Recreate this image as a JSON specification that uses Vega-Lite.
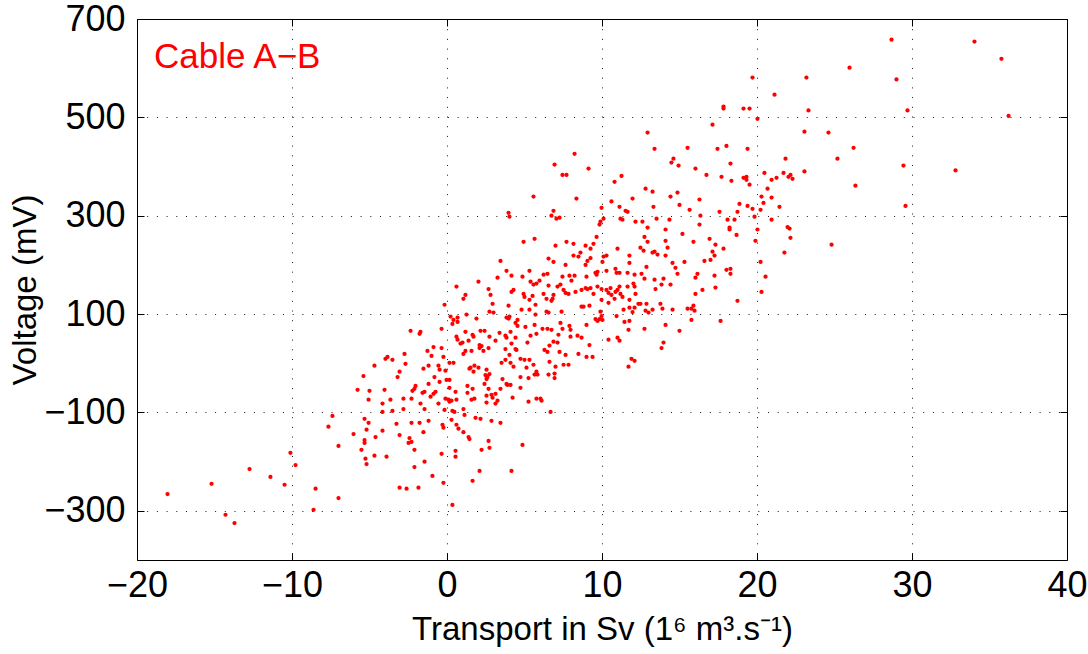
{
  "$schema": "https://vega.github.io/schema/vega-lite/v6.json",
  "width": 930,
  "height": 541,
  "autosize": {"type": "none"},
  "padding": {"left": 137, "top": 19, "right": 21, "bottom": 94},
  "background": "white",
  "config": {
    "view": {"stroke": "#000000", "strokeWidth": 1},
    "font": "Liberation Sans",
    "axis": {
      "labelFont": "Liberation Sans", "labelFontSize": 36, "labelColor": "#000000", "labelFlush": false, "labelOverlap": false,
      "titleFont": "Liberation Sans", "titleFontSize": 33, "titleFontWeight": "normal", "titleColor": "#000000",
      "domain": false,
      "tickColor": "#000000", "tickSize": -7, "tickWidth": 1,
      "gridColor": "#000000", "gridDash": [1, 8.7], "gridOpacity": 0.9, "gridWidth": 1
    }
  },
  "datasets": {
    "pts": [
      {"transport": -4.68, "voltage": -5}, {"transport": -5.39, "voltage": -26}, {"transport": -5.77, "voltage": -54}, {"transport": -5.0, "voltage": -56}, {"transport": -5.06, "voltage": -74}, {"transport": -7.39, "voltage": -107}, {"transport": -5.32, "voltage": -113}, {"transport": -5.06, "voltage": -121}, {"transport": -7.65, "voltage": -129}, {"transport": -5.19, "voltage": -135}, {"transport": -6.03, "voltage": -144}, {"transport": -4.61, "voltage": -150}, {"transport": -5.32, "voltage": -156}, {"transport": -5.32, "voltage": -162}, {"transport": -7.0, "voltage": -168}, {"transport": -5.52, "voltage": -176}, {"transport": -10.1, "voltage": -182}, {"transport": -5.26, "voltage": -194}, {"transport": -4.68, "voltage": -188}, {"transport": -5.19, "voltage": -205}, {"transport": -9.77, "voltage": -207}, {"transport": -12.74, "voltage": -215}, {"transport": -11.39, "voltage": -231}, {"transport": -15.19, "voltage": -245}, {"transport": -10.48, "voltage": -247}, {"transport": -18.03, "voltage": -266}, {"transport": -8.48, "voltage": -255}, {"transport": -7.0, "voltage": -274}, {"transport": -8.61, "voltage": -298}, {"transport": -14.29, "voltage": -308}, {"transport": -13.71, "voltage": -325},
      {"transport": 3.97, "voltage": 306}, {"transport": 4.03, "voltage": 298}, {"transport": 4.94, "voltage": 247}, {"transport": 3.45, "voltage": 208}, {"transport": 3.84, "voltage": 188}, {"transport": 5.32, "voltage": 188}, {"transport": 4.16, "voltage": 178}, {"transport": 4.87, "voltage": 176}, {"transport": 3.26, "voltage": 174}, {"transport": 2.03, "voltage": 166}, {"transport": 0.61, "voltage": 156}, {"transport": 2.68, "voltage": 151}, {"transport": 4.29, "voltage": 149}, {"transport": 4.16, "voltage": 145}, {"transport": 1.19, "voltage": 139}, {"transport": 2.81, "voltage": 139}, {"transport": 4.94, "voltage": 141}, {"transport": 5.0, "voltage": 135}, {"transport": 1.06, "voltage": 131}, {"transport": 5.32, "voltage": 129}, {"transport": 2.94, "voltage": 121}, {"transport": -0.16, "voltage": 119}, {"transport": 3.97, "voltage": 117}, {"transport": 4.81, "voltage": 109}, {"transport": 5.32, "voltage": 109}, {"transport": 2.74, "voltage": 105}, {"transport": 3.0, "voltage": 103}, {"transport": 1.26, "voltage": 99}, {"transport": 0.23, "voltage": 95}, {"transport": 0.68, "voltage": 93}, {"transport": 0.42, "voltage": 88}, {"transport": 1.9, "voltage": 91}, {"transport": 3.84, "voltage": 93}, {"transport": 4.03, "voltage": 95}, {"transport": 3.97, "voltage": 91}, {"transport": 4.55, "voltage": 88}, {"transport": 4.42, "voltage": 82}, {"transport": 4.55, "voltage": 76}, {"transport": 0.68, "voltage": 84}, {"transport": 0.35, "voltage": 80}, {"transport": 5.06, "voltage": 74}, {"transport": -0.35, "voltage": 70}, {"transport": -2.35, "voltage": 66}, {"transport": -1.71, "voltage": 64}, {"transport": -1.77, "voltage": 60}, {"transport": 1.19, "voltage": 64}, {"transport": 2.16, "voltage": 66}, {"transport": 2.42, "voltage": 66}, {"transport": 1.65, "voltage": 58}, {"transport": 1.71, "voltage": 54}, {"transport": 3.39, "voltage": 62}, {"transport": 4.1, "voltage": 64}, {"transport": 0.61, "voltage": 54}, {"transport": 0.68, "voltage": 48}, {"transport": 2.74, "voltage": 54}, {"transport": 3.77, "voltage": 56}, {"transport": 3.84, "voltage": 52}, {"transport": 4.42, "voltage": 52}, {"transport": 5.39, "voltage": 56}, {"transport": 3.13, "voltage": 46}, {"transport": 1.39, "voltage": 46}, {"transport": 0.87, "voltage": 40}, {"transport": 1.0, "voltage": 42}, {"transport": 5.19, "voltage": 42}, {"transport": 4.16, "voltage": 40}, {"transport": -0.87, "voltage": 33}, {"transport": -0.35, "voltage": 31}, {"transport": 2.1, "voltage": 37}, {"transport": 2.23, "voltage": 35}, {"transport": 2.1, "voltage": 31}, {"transport": 2.68, "voltage": 31}, {"transport": 3.77, "voltage": 29}, {"transport": 4.42, "voltage": 29},
      {"transport": -3.97, "voltage": 9}, {"transport": -3.84, "voltage": 13}, {"transport": -3.52, "voltage": 7}, {"transport": -2.74, "voltage": 19}, {"transport": -2.68, "voltage": -1}, {"transport": -3.06, "voltage": -17}, {"transport": -3.19, "voltage": -28}, {"transport": -1.26, "voltage": 25}, {"transport": -1.0, "voltage": 15}, {"transport": -0.23, "voltage": 13}, {"transport": -1.52, "voltage": -11}, {"transport": -1.19, "voltage": -5}, {"transport": -0.55, "voltage": -5}, {"transport": -0.48, "voltage": -13}, {"transport": -0.1, "voltage": -15}, {"transport": 0.16, "voltage": 1}, {"transport": 0.42, "voltage": 1}, {"transport": -0.81, "voltage": -28}, {"transport": -0.48, "voltage": -38}, {"transport": -0.03, "voltage": -34}, {"transport": 0.16, "voltage": -34}, {"transport": -1.19, "voltage": -42}, {"transport": -2.03, "voltage": -46}, {"transport": -2.1, "voltage": -52}, {"transport": -2.23, "voltage": -56}, {"transport": -1.58, "voltage": -60}, {"transport": -1.45, "voltage": -58}, {"transport": -1.06, "voltage": -68}, {"transport": -0.87, "voltage": -62}, {"transport": -0.74, "voltage": -58}, {"transport": 0.16, "voltage": -50}, {"transport": -4.03, "voltage": -54}, {"transport": 0.55, "voltage": -58}, {"transport": -0.1, "voltage": -72}, {"transport": 0.1, "voltage": -74}, {"transport": 0.16, "voltage": -78}, {"transport": 0.29, "voltage": -76}, {"transport": 0.61, "voltage": -74}, {"transport": -0.55, "voltage": -82}, {"transport": -1.71, "voltage": -82}, {"transport": -2.29, "voltage": -72}, {"transport": -2.81, "voltage": -72}, {"transport": -3.65, "voltage": -74}, {"transport": -4.16, "voltage": -82}, {"transport": -1.45, "voltage": -93}, {"transport": -2.81, "voltage": -93}, {"transport": -3.52, "voltage": -97}, {"transport": -4.16, "voltage": -99}, {"transport": -0.16, "voltage": -95}, {"transport": 0.35, "voltage": -97}, {"transport": 0.48, "voltage": -99}, {"transport": 0.29, "voltage": -115}, {"transport": 1.06, "voltage": -93}, {"transport": 1.13, "voltage": -105}, {"transport": -3.26, "voltage": -123}, {"transport": -2.29, "voltage": -121}, {"transport": -1.77, "voltage": -121}, {"transport": -1.19, "voltage": -117}, {"transport": -1.52, "voltage": -140}, {"transport": -0.29, "voltage": -125}, {"transport": -0.23, "voltage": -131}, {"transport": 0.61, "voltage": -125}, {"transport": 0.74, "voltage": -133}, {"transport": -4.16, "voltage": -137}, {"transport": -3.06, "voltage": -146}, {"transport": -2.42, "voltage": -152}, {"transport": -2.48, "voltage": -162}, {"transport": -2.29, "voltage": -160}, {"transport": -2.1, "voltage": -176}, {"transport": 1.06, "voltage": -140}, {"transport": 1.39, "voltage": -150}, {"transport": 1.45, "voltage": -154}, {"transport": -3.9, "voltage": -190}, {"transport": -2.1, "voltage": -211}, {"transport": -1.45, "voltage": -200}, {"transport": -0.35, "voltage": -184}, {"transport": 0.55, "voltage": -178}, {"transport": 0.55, "voltage": -190}, {"transport": -0.94, "voltage": -229}, {"transport": -3.06, "voltage": -253}, {"transport": -2.61, "voltage": -255}, {"transport": -1.84, "voltage": -253}, {"transport": -0.23, "voltage": -243}, {"transport": 0.35, "voltage": -288},
      {"transport": 1.06, "voltage": 19}, {"transport": 1.19, "voltage": 25}, {"transport": 1.58, "voltage": 25}, {"transport": 2.35, "voltage": 25}, {"transport": 1.45, "voltage": -11}, {"transport": 1.52, "voltage": -9}, {"transport": 1.71, "voltage": -17}, {"transport": 1.77, "voltage": -5}, {"transport": 2.03, "voltage": -9}, {"transport": 2.55, "voltage": -13}, {"transport": 2.48, "voltage": -24}, {"transport": 2.55, "voltage": -26}, {"transport": 2.74, "voltage": -22}, {"transport": 2.61, "voltage": -28}, {"transport": 2.55, "voltage": -32}, {"transport": 2.42, "voltage": -42}, {"transport": 2.68, "voltage": -52}, {"transport": 1.32, "voltage": -46}, {"transport": 1.65, "voltage": -52}, {"transport": 1.32, "voltage": -60}, {"transport": 2.55, "voltage": -66}, {"transport": 1.58, "voltage": -74}, {"transport": 1.77, "voltage": -72}, {"transport": 2.55, "voltage": -80}, {"transport": 2.87, "voltage": -64}, {"transport": 2.94, "voltage": -70}, {"transport": 3.13, "voltage": -62}, {"transport": 3.26, "voltage": -76}, {"transport": 3.13, "voltage": -82}, {"transport": 3.52, "voltage": 1}, {"transport": 3.77, "voltage": 7}, {"transport": 4.03, "voltage": 17}, {"transport": 4.1, "voltage": 1}, {"transport": 4.29, "voltage": -7}, {"transport": 4.48, "voltage": 27}, {"transport": 3.58, "voltage": -32}, {"transport": 3.84, "voltage": -42}, {"transport": 3.9, "voltage": -44}, {"transport": 4.1, "voltage": -44}, {"transport": 3.45, "voltage": -52}, {"transport": 4.74, "voltage": 9}, {"transport": 5.0, "voltage": 7}, {"transport": 5.32, "voltage": 7}, {"transport": 5.13, "voltage": -9}, {"transport": 4.74, "voltage": -28}, {"transport": 5.26, "voltage": -30}, {"transport": 4.74, "voltage": -50}, {"transport": 4.23, "voltage": -70}, {"transport": 5.26, "voltage": -78}, {"transport": 1.84, "voltage": -111}, {"transport": 2.16, "voltage": -113}, {"transport": 2.87, "voltage": -117}, {"transport": 3.45, "voltage": -121}, {"transport": 2.68, "voltage": -158}, {"transport": 2.74, "voltage": -172}, {"transport": 2.23, "voltage": -176}, {"transport": 4.87, "voltage": -166}, {"transport": 2.1, "voltage": -219}, {"transport": 1.65, "voltage": -239}, {"transport": 4.16, "voltage": -219},
      {"transport": 12.94, "voltage": 469}, {"transport": 13.39, "voltage": 436}, {"transport": 15.52, "voltage": 438}, {"transport": 8.23, "voltage": 426}, {"transport": 6.94, "voltage": 404}, {"transport": 7.45, "voltage": 383}, {"transport": 7.71, "voltage": 383}, {"transport": 9.13, "voltage": 396}, {"transport": 14.48, "voltage": 408}, {"transport": 14.61, "voltage": 416}, {"transport": 14.94, "voltage": 402}, {"transport": 11.26, "voltage": 381}, {"transport": 10.81, "voltage": 369}, {"transport": 5.58, "voltage": 339}, {"transport": 8.35, "voltage": 335}, {"transport": 12.81, "voltage": 355}, {"transport": 13.26, "voltage": 349}, {"transport": 14.87, "voltage": 347}, {"transport": 14.42, "voltage": 339}, {"transport": 10.61, "voltage": 329}, {"transport": 11.97, "voltage": 335}, {"transport": 15.0, "voltage": 322}, {"transport": 13.32, "voltage": 318}, {"transport": 11.13, "voltage": 318}, {"transport": 9.97, "voltage": 316}, {"transport": 15.65, "voltage": 312}, {"transport": 6.87, "voltage": 310}, {"transport": 6.74, "voltage": 300}, {"transport": 7.06, "voltage": 294}, {"transport": 7.26, "voltage": 296}, {"transport": 11.52, "voltage": 310}, {"transport": 11.65, "voltage": 308}, {"transport": 10.1, "voltage": 294}, {"transport": 11.19, "voltage": 294}, {"transport": 11.32, "voltage": 292}, {"transport": 9.9, "voltage": 288}, {"transport": 9.84, "voltage": 282}, {"transport": 12.16, "voltage": 288}, {"transport": 12.61, "voltage": 288}, {"transport": 12.94, "voltage": 276}, {"transport": 13.52, "voltage": 294}, {"transport": 14.35, "voltage": 292}, {"transport": 14.1, "voltage": 272}, {"transport": 9.65, "voltage": 257}, {"transport": 5.65, "voltage": 253}, {"transport": 12.74, "voltage": 257}, {"transport": 15.19, "voltage": 263}, {"transport": 7.0, "voltage": 239}, {"transport": 7.71, "voltage": 247}, {"transport": 8.16, "voltage": 243}, {"transport": 8.94, "voltage": 239}, {"transport": 9.45, "voltage": 243}, {"transport": 9.26, "voltage": 233}, {"transport": 11.0, "voltage": 233}, {"transport": 12.94, "voltage": 247}, {"transport": 14.1, "voltage": 249}, {"transport": 14.23, "voltage": 235}, {"transport": 12.48, "voltage": 235},
      {"transport": 6.55, "voltage": 213}, {"transport": 6.87, "voltage": 206}, {"transport": 7.65, "voltage": 200}, {"transport": 8.16, "voltage": 219}, {"transport": 8.48, "voltage": 217}, {"transport": 8.61, "voltage": 225}, {"transport": 8.94, "voltage": 200}, {"transport": 9.06, "voltage": 208}, {"transport": 9.26, "voltage": 214}, {"transport": 10.03, "voltage": 206}, {"transport": 10.1, "voltage": 217}, {"transport": 10.29, "voltage": 219}, {"transport": 11.77, "voltage": 219}, {"transport": 11.77, "voltage": 204}, {"transport": 12.68, "voltage": 229}, {"transport": 13.26, "voltage": 225}, {"transport": 13.39, "voltage": 227}, {"transport": 13.58, "voltage": 221}, {"transport": 14.1, "voltage": 219}, {"transport": 14.55, "voltage": 204}, {"transport": 15.32, "voltage": 206}, {"transport": 12.87, "voltage": 196}, {"transport": 14.74, "voltage": 194}, {"transport": 14.87, "voltage": 182}, {"transport": 13.97, "voltage": 172}, {"transport": 6.23, "voltage": 180}, {"transport": 6.48, "voltage": 182}, {"transport": 5.97, "voltage": 168}, {"transport": 7.45, "voltage": 176}, {"transport": 7.9, "voltage": 178}, {"transport": 8.23, "voltage": 178}, {"transport": 8.03, "voltage": 168}, {"transport": 9.0, "voltage": 176}, {"transport": 9.58, "voltage": 184}, {"transport": 9.65, "voltage": 180}, {"transport": 9.71, "voltage": 186}, {"transport": 10.29, "voltage": 188}, {"transport": 10.87, "voltage": 192}, {"transport": 10.94, "voltage": 184}, {"transport": 11.13, "voltage": 184}, {"transport": 11.65, "voltage": 184}, {"transport": 12.1, "voltage": 180}, {"transport": 12.55, "voltage": 182}, {"transport": 12.74, "voltage": 172}, {"transport": 13.39, "voltage": 170}, {"transport": 13.84, "voltage": 160}, {"transport": 14.42, "voltage": 160}, {"transport": 13.45, "voltage": 151}, {"transport": 5.39, "voltage": 166}, {"transport": 5.58, "voltage": 160}, {"transport": 5.77, "voltage": 162}, {"transport": 6.55, "voltage": 158}, {"transport": 7.13, "voltage": 156}, {"transport": 7.32, "voltage": 160}, {"transport": 6.87, "voltage": 139}, {"transport": 7.52, "voltage": 149}, {"transport": 7.65, "voltage": 143}, {"transport": 7.84, "voltage": 141}, {"transport": 8.29, "voltage": 145}, {"transport": 8.68, "voltage": 149}, {"transport": 8.94, "voltage": 153}, {"transport": 9.06, "voltage": 151}, {"transport": 9.26, "voltage": 153}, {"transport": 8.68, "voltage": 115}, {"transport": 9.19, "voltage": 117}, {"transport": 9.45, "voltage": 141}, {"transport": 9.71, "voltage": 156}, {"transport": 9.97, "voltage": 151}, {"transport": 10.29, "voltage": 149}, {"transport": 10.55, "voltage": 153}, {"transport": 10.42, "voltage": 143}, {"transport": 10.61, "voltage": 139}, {"transport": 10.87, "voltage": 145}, {"transport": 11.0, "voltage": 149}, {"transport": 11.13, "voltage": 156}, {"transport": 11.65, "voltage": 156}, {"transport": 12.03, "voltage": 162}, {"transport": 12.1, "voltage": 156}, {"transport": 12.16, "voltage": 141}, {"transport": 11.19, "voltage": 141}, {"transport": 10.81, "voltage": 131}, {"transport": 11.32, "voltage": 135}, {"transport": 10.42, "voltage": 123}, {"transport": 9.97, "voltage": 129}, {"transport": 11.77, "voltage": 129}, {"transport": 5.52, "voltage": 137}, {"transport": 6.23, "voltage": 141}, {"transport": 6.42, "voltage": 131}, {"transport": 6.74, "voltage": 127}, {"transport": 6.81, "voltage": 131}, {"transport": 5.71, "voltage": 119}, {"transport": 12.35, "voltage": 121}, {"transport": 12.48, "voltage": 121}, {"transport": 12.87, "voltage": 121}, {"transport": 13.77, "voltage": 121}, {"transport": 11.39, "voltage": 109}, {"transport": 11.77, "voltage": 113}, {"transport": 12.1, "voltage": 113}, {"transport": 11.97, "voltage": 104}, {"transport": 12.81, "voltage": 107}, {"transport": 13.0, "voltage": 103}, {"transport": 13.26, "voltage": 109}, {"transport": 13.9, "voltage": 111}, {"transport": 14.55, "voltage": 109}, {"transport": 15.52, "voltage": 111}, {"transport": 6.42, "voltage": 105}, {"transport": 6.55, "voltage": 103}, {"transport": 5.71, "voltage": 99}, {"transport": 7.39, "voltage": 105}, {"transport": 9.9, "voltage": 105}, {"transport": 8.81, "voltage": 115}, {"transport": 9.58, "voltage": 90}, {"transport": 9.71, "voltage": 86}, {"transport": 9.84, "voltage": 90}, {"transport": 10.03, "voltage": 88}, {"transport": 9.97, "voltage": 96}, {"transport": 10.94, "voltage": 96}, {"transport": 11.45, "voltage": 84}, {"transport": 11.77, "voltage": 86}, {"transport": 5.65, "voltage": 78}, {"transport": 6.16, "voltage": 70}, {"transport": 6.48, "voltage": 70}, {"transport": 6.74, "voltage": 68}, {"transport": 7.32, "voltage": 82}, {"transport": 7.45, "voltage": 70}, {"transport": 7.9, "voltage": 76}, {"transport": 7.97, "voltage": 68}, {"transport": 9.0, "voltage": 78}, {"transport": 5.77, "voltage": 60}, {"transport": 7.19, "voltage": 58}, {"transport": 7.97, "voltage": 54}, {"transport": 8.42, "voltage": 56}, {"transport": 8.68, "voltage": 52}, {"transport": 6.87, "voltage": 44}, {"transport": 7.13, "voltage": 42}, {"transport": 6.61, "voltage": 36}, {"transport": 6.29, "voltage": 27}, {"transport": 6.48, "voltage": 23}, {"transport": 7.26, "voltage": 23}, {"transport": 7.65, "voltage": 17}, {"transport": 8.48, "voltage": 19}, {"transport": 9.19, "voltage": 37}, {"transport": 10.42, "voltage": 48}, {"transport": 11.0, "voltage": 52}, {"transport": 11.13, "voltage": 46}, {"transport": 11.71, "voltage": 68}, {"transport": 12.74, "voltage": 70}, {"transport": 14.1, "voltage": 78}, {"transport": 15.0, "voltage": 66}, {"transport": 13.97, "voltage": 42}, {"transport": 13.84, "voltage": 31}, {"transport": 9.0, "voltage": 13}, {"transport": 9.39, "voltage": 13}, {"transport": 11.9, "voltage": 9}, {"transport": 12.1, "voltage": 5}, {"transport": 11.71, "voltage": -7}, {"transport": 6.61, "voltage": 3}, {"transport": 7.0, "voltage": -7}, {"transport": 7.52, "voltage": -3}, {"transport": 7.84, "voltage": -3}, {"transport": 5.58, "voltage": -3},
      {"transport": 5.77, "voltage": -17}, {"transport": 5.65, "voltage": -23}, {"transport": 5.84, "voltage": -23}, {"transport": 6.55, "voltage": -23}, {"transport": 6.94, "voltage": -21}, {"transport": 6.94, "voltage": -30}, {"transport": 5.77, "voltage": -72}, {"transport": 6.03, "voltage": -72}, {"transport": 6.1, "voltage": -76}, {"transport": 6.68, "voltage": -99},
      {"transport": 25.97, "voltage": 601}, {"transport": 23.19, "voltage": 581}, {"transport": 19.71, "voltage": 581}, {"transport": 21.13, "voltage": 546}, {"transport": 17.84, "voltage": 522}, {"transport": 17.84, "voltage": 518}, {"transport": 19.13, "voltage": 518}, {"transport": 19.52, "voltage": 518}, {"transport": 23.32, "voltage": 514}, {"transport": 20.03, "voltage": 497}, {"transport": 17.13, "voltage": 485}, {"transport": 23.06, "voltage": 471}, {"transport": 24.61, "voltage": 469}, {"transport": 17.45, "voltage": 436}, {"transport": 18.03, "voltage": 442}, {"transport": 19.39, "voltage": 436}, {"transport": 21.84, "voltage": 416}, {"transport": 25.19, "voltage": 416}, {"transport": 16.03, "voltage": 396}, {"transport": 18.29, "voltage": 406},
      {"transport": 16.74, "voltage": 383}, {"transport": 17.71, "voltage": 379}, {"transport": 18.35, "voltage": 371}, {"transport": 19.13, "voltage": 377}, {"transport": 19.32, "voltage": 379}, {"transport": 19.32, "voltage": 373}, {"transport": 19.52, "voltage": 363}, {"transport": 20.48, "voltage": 387}, {"transport": 20.94, "voltage": 373}, {"transport": 21.26, "voltage": 377}, {"transport": 21.71, "voltage": 387}, {"transport": 22.03, "voltage": 379}, {"transport": 22.16, "voltage": 383}, {"transport": 22.29, "voltage": 375}, {"transport": 23.06, "voltage": 390}, {"transport": 20.68, "voltage": 355}, {"transport": 20.29, "voltage": 339}, {"transport": 20.42, "voltage": 326}, {"transport": 20.94, "voltage": 337}, {"transport": 16.29, "voltage": 333}, {"transport": 18.87, "voltage": 324}, {"transport": 19.39, "voltage": 320}, {"transport": 19.71, "voltage": 314}, {"transport": 20.23, "voltage": 312}, {"transport": 21.45, "voltage": 318}, {"transport": 16.35, "voltage": 300}, {"transport": 17.58, "voltage": 308}, {"transport": 18.74, "voltage": 308}, {"transport": 19.84, "voltage": 298}, {"transport": 18.1, "voltage": 292}, {"transport": 18.55, "voltage": 292}, {"transport": 20.94, "voltage": 292}, {"transport": 16.29, "voltage": 282}, {"transport": 18.23, "voltage": 276}, {"transport": 18.23, "voltage": 272}, {"transport": 20.03, "voltage": 272}, {"transport": 21.97, "voltage": 277}, {"transport": 22.1, "voltage": 274}, {"transport": 18.68, "voltage": 261}, {"transport": 22.16, "voltage": 255}, {"transport": 15.9, "voltage": 247}, {"transport": 16.94, "voltage": 253}, {"transport": 17.32, "voltage": 241}, {"transport": 19.9, "voltage": 249}, {"transport": 24.81, "voltage": 241}, {"transport": 17.84, "voltage": 233}, {"transport": 17.13, "voltage": 227}, {"transport": 17.26, "voltage": 219}, {"transport": 16.61, "voltage": 208}, {"transport": 17.0, "voltage": 210}, {"transport": 21.77, "voltage": 225}, {"transport": 20.23, "voltage": 206}, {"transport": 18.03, "voltage": 190}, {"transport": 18.29, "voltage": 192}, {"transport": 18.29, "voltage": 182}, {"transport": 16.16, "voltage": 182}, {"transport": 16.03, "voltage": 174}, {"transport": 17.26, "voltage": 178}, {"transport": 20.55, "voltage": 176}, {"transport": 16.48, "voltage": 149}, {"transport": 17.32, "voltage": 154}, {"transport": 16.03, "voltage": 141}, {"transport": 20.29, "voltage": 145}, {"transport": 18.74, "voltage": 127}, {"transport": 15.9, "voltage": 117}, {"transport": 15.97, "voltage": 107}, {"transport": 15.77, "voltage": 111}, {"transport": 15.77, "voltage": 88}, {"transport": 17.65, "voltage": 86},
      {"transport": 28.68, "voltage": 658}, {"transport": 34.03, "voltage": 654}, {"transport": 35.77, "voltage": 619}, {"transport": 29.0, "voltage": 577}, {"transport": 29.71, "voltage": 514}, {"transport": 36.23, "voltage": 503}, {"transport": 26.23, "voltage": 438}, {"transport": 29.45, "voltage": 402}, {"transport": 32.81, "voltage": 392}, {"transport": 26.35, "voltage": 361}, {"transport": 29.58, "voltage": 320}
    ],
    "label": [{"transport": -18.9, "voltage": 600, "text": "Cable A−B"}]
  },
  "layer": [
    {
      "data": {"name": "pts"},
      "mark": {"type": "circle", "size": 18, "color": "#ff0000", "opacity": 1},
      "encoding": {
        "x": {
          "field": "transport", "type": "quantitative",
          "scale": {"domain": [-20, 40], "nice": false, "zero": false},
          "axis": {"orient": "bottom", "values": [-20, -10, 0, 10, 20, 30, 40], "grid": true, "labelPadding": 15, "titlePadding": 10, "title": "Transport in Sv (1⁶ m³.s⁻¹)"}
        },
        "y": {
          "field": "voltage", "type": "quantitative",
          "scale": {"domain": [-400, 700], "nice": false, "zero": false},
          "axis": {"orient": "left", "values": [-300, -100, 100, 300, 500, 700], "grid": true, "labelPadding": 19, "titlePadding": 1, "title": "Voltage (mV)"}
        }
      }
    },
    {
      "data": {"name": "label"},
      "mark": {"type": "text", "align": "left", "baseline": "alphabetic", "fontSize": 35, "font": "Liberation Sans", "color": "#ff0000"},
      "encoding": {
        "x": {
          "field": "transport", "type": "quantitative",
          "scale": {"domain": [-20, 40], "nice": false, "zero": false},
          "axis": {"orient": "top", "values": [-20, -10, 0, 10, 20, 30, 40], "grid": false, "labels": false, "title": null}
        },
        "y": {
          "field": "voltage", "type": "quantitative",
          "scale": {"domain": [-400, 700], "nice": false, "zero": false},
          "axis": {"orient": "right", "values": [-300, -100, 100, 300, 500, 700], "grid": false, "labels": false, "title": null}
        },
        "text": {"field": "text"}
      }
    }
  ],
  "resolve": {"axis": {"x": "independent", "y": "independent"}}
}
